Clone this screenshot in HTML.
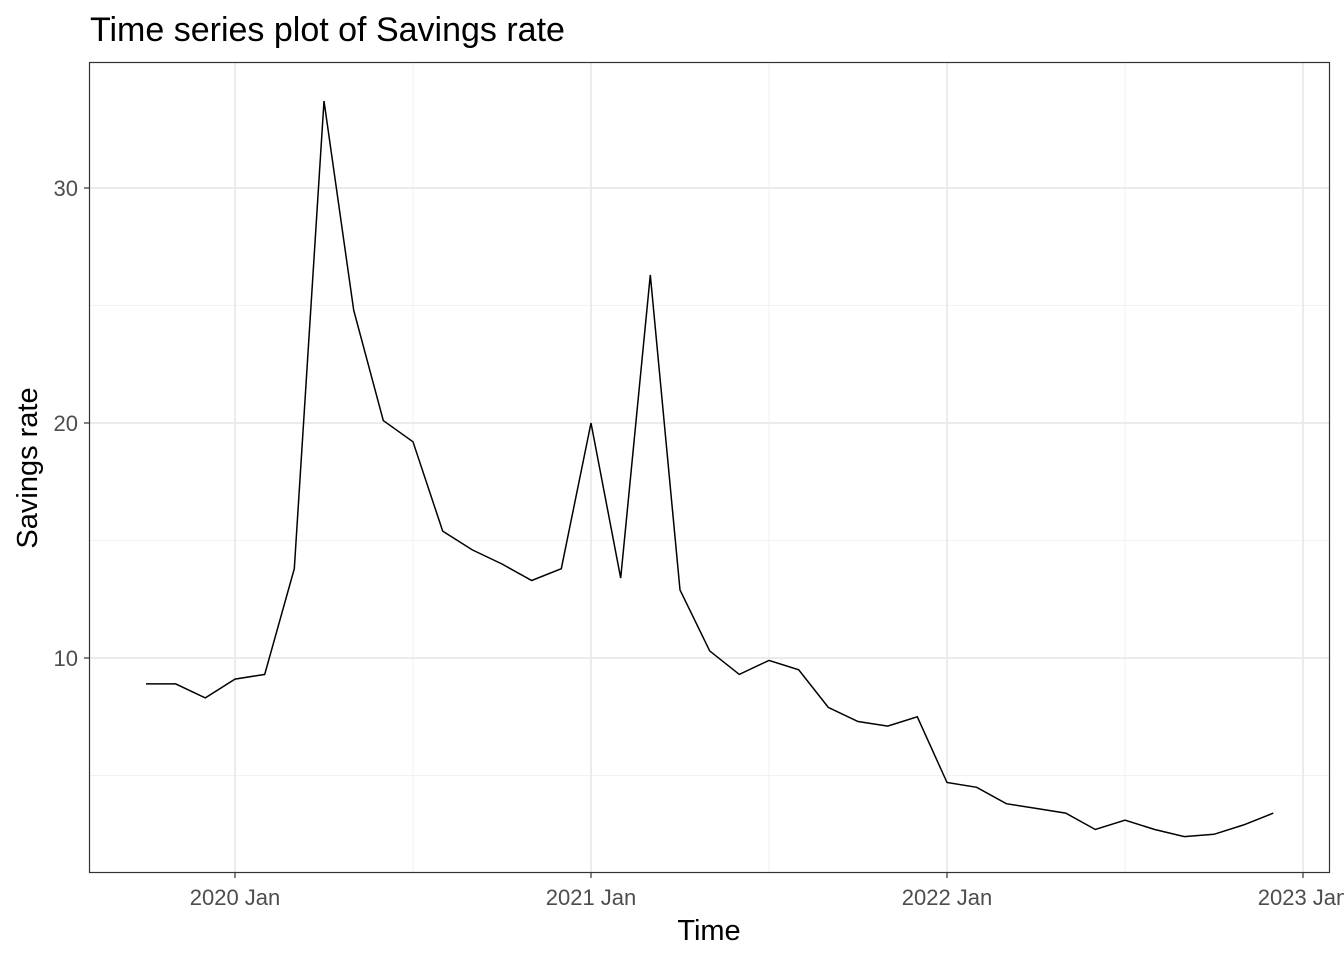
<!DOCTYPE html>
<html><head><meta charset="utf-8"><style>
body{margin:0;background:#fff;}
svg{display:block;font-family:"Liberation Sans",Arial,sans-serif;}
</style></head><body>
<svg id="chart" width="1344" height="960">
<text x="90" y="41" font-size="34" fill="#000">Time series plot of Savings rate</text>
<g id="grid"></g>
<g id="plot"></g>
<rect x="89.5" y="62.5" width="1240" height="810" fill="none" stroke="#333" stroke-width="1.2"/>
<g id="axes"></g>
<text x="709" y="940" font-size="29" text-anchor="middle" fill="#000">Time</text>
<text transform="translate(37,468) rotate(-90)" font-size="29" text-anchor="middle" fill="#000">Savings rate</text>
</svg>
<script>
const startYear = 2019, startMonth = 10;
const values = [8.9,8.9,8.3,9.1,9.3,13.8,33.7,24.8,20.1,19.2,15.4,14.6,14.0,13.3,13.8,20.0,13.4,26.3,12.9,10.3,9.3,9.9,9.5,7.9,7.3,7.1,7.5,4.7,4.5,3.8,3.6,3.4,2.7,3.1,2.7,2.4,2.5,2.9,3.4];
const yTicks = [10,20,30];
const yMinor = [5,15,25];
const xTickYears = [2020,2021,2022,2023];
const xTickLabels = ["2020 Jan","2021 Jan","2022 Jan","2023 Jan"];
const xMinorYears = [2020.5,2021.5,2022.5];

const NS="http://www.w3.org/2000/svg";
function xs(t){return 235+(t-2020)*356;}
function ys(v){return 658-(v-10)*23.5;}
function mk(tag,attrs,parent){const e=document.createElementNS(NS,tag);for(const k in attrs)e.setAttribute(k,attrs[k]);parent.appendChild(e);return e;}
const grid=document.getElementById('grid'),plot=document.getElementById('plot'),axes=document.getElementById('axes');
mk('rect',{x:89.5,y:62.5,width:1240,height:810,fill:'#fff'},grid);
yMinor.forEach(v=>{const l=mk('line',{x1:90,x2:1329,y1:ys(v),y2:ys(v),stroke:'#f2f2f2','stroke-width':1},grid);

});
xMinorYears.forEach(t=>{const l=mk('line',{x1:xs(t),x2:xs(t),y1:63,y2:872,stroke:'#f2f2f2','stroke-width':1},grid);

});
yTicks.forEach(v=>{const y=ys(v);
const l=mk('line',{x1:90,x2:1329,y1:y,y2:y,stroke:'#ebebeb','stroke-width':2},grid);


const tk=mk('line',{x1:84,x2:89,y1:y,y2:y,stroke:'#333','stroke-width':1.2},axes);


const t=mk('text',{x:78,y:y+8,'font-size':22,'text-anchor':'end',fill:'#4d4d4d'},axes);t.textContent=v;

});
xTickYears.forEach((yr,i)=>{const x=xs(yr);
const l=mk('line',{x1:x,x2:x,y1:63,y2:872,stroke:'#ebebeb','stroke-width':2},grid);


const tk=mk('line',{x1:x,x2:x,y1:873,y2:878,stroke:'#333','stroke-width':1.2},axes);


const t=mk('text',{x:x,y:905,'font-size':22,'text-anchor':'middle',fill:'#4d4d4d'},axes);t.textContent=xTickLabels[i];

});
const pts=values.map((v,i)=>{const t=startYear+(startMonth-1+i)/12;return xs(t).toFixed(1)+','+ys(v).toFixed(1);}).join(' ');
const line=mk('polyline',{points:pts,fill:'none',stroke:'#000','stroke-width':1.5},plot);


</script>
</body></html>
